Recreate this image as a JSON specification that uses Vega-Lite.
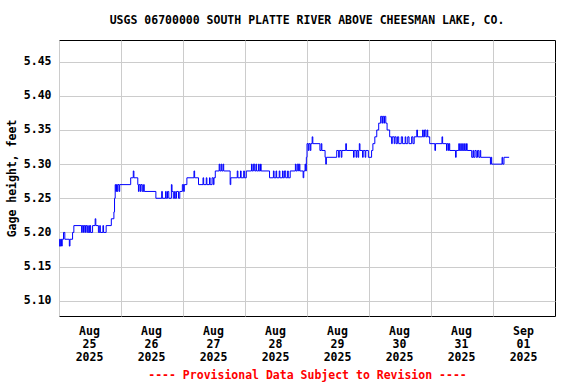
{
  "$schema": "https://vega.github.io/schema/vega-lite/v6.json",
  "width": 496,
  "height": 276,
  "autosize": {"type": "none"},
  "padding": {"left": 59, "top": 40, "right": 21, "bottom": 68},
  "background": "white",
  "title": {
    "text": "USGS 06700000 SOUTH PLATTE RIVER ABOVE CHEESMAN LAKE, CO.",
    "font": "DejaVu Sans Mono",
    "fontSize": 11.5,
    "fontWeight": "bold",
    "color": "black",
    "anchor": "middle",
    "offset": 14
  },
  "config": {
    "view": {"stroke": "black", "strokeWidth": 1},
    "axis": {
      "labelFont": "DejaVu Sans Mono",
      "labelFontSize": 11.5,
      "labelFontWeight": "bold",
      "labelColor": "black",
      "titleFont": "DejaVu Sans Mono",
      "titleFontSize": 11.5,
      "titleFontWeight": "bold",
      "titleColor": "black",
      "gridColor": "#cccccc",
      "gridWidth": 1,
      "gridOpacity": 1,
      "domain": false,
      "ticks": false
    }
  },
  "data": {
    "format": {"parse": {"t": "utc:'%Y-%m-%d %H:%M'"}},
    "values": [
      {"t": "2025-08-25 00:00", "v": 5.18},
      {"t": "2025-08-25 00:15", "v": 5.19},
      {"t": "2025-08-25 00:30", "v": 5.18},
      {"t": "2025-08-25 00:45", "v": 5.19},
      {"t": "2025-08-25 01:00", "v": 5.18},
      {"t": "2025-08-25 01:15", "v": 5.19},
      {"t": "2025-08-25 01:45", "v": 5.20},
      {"t": "2025-08-25 02:15", "v": 5.19},
      {"t": "2025-08-25 04:00", "v": 5.18},
      {"t": "2025-08-25 04:15", "v": 5.19},
      {"t": "2025-08-25 05:15", "v": 5.20},
      {"t": "2025-08-25 05:45", "v": 5.21},
      {"t": "2025-08-25 08:45", "v": 5.20},
      {"t": "2025-08-25 09:00", "v": 5.21},
      {"t": "2025-08-25 09:30", "v": 5.20},
      {"t": "2025-08-25 09:45", "v": 5.21},
      {"t": "2025-08-25 10:15", "v": 5.20},
      {"t": "2025-08-25 10:30", "v": 5.21},
      {"t": "2025-08-25 11:00", "v": 5.20},
      {"t": "2025-08-25 11:30", "v": 5.21},
      {"t": "2025-08-25 11:45", "v": 5.20},
      {"t": "2025-08-25 12:00", "v": 5.21},
      {"t": "2025-08-25 12:15", "v": 5.20},
      {"t": "2025-08-25 13:00", "v": 5.21},
      {"t": "2025-08-25 14:00", "v": 5.22},
      {"t": "2025-08-25 14:15", "v": 5.21},
      {"t": "2025-08-25 15:15", "v": 5.20},
      {"t": "2025-08-25 15:45", "v": 5.21},
      {"t": "2025-08-25 16:00", "v": 5.20},
      {"t": "2025-08-25 17:00", "v": 5.21},
      {"t": "2025-08-25 17:15", "v": 5.20},
      {"t": "2025-08-25 18:15", "v": 5.21},
      {"t": "2025-08-25 20:15", "v": 5.22},
      {"t": "2025-08-25 21:15", "v": 5.23},
      {"t": "2025-08-25 21:30", "v": 5.25},
      {"t": "2025-08-25 21:45", "v": 5.27},
      {"t": "2025-08-25 22:00", "v": 5.26},
      {"t": "2025-08-25 22:15", "v": 5.27},
      {"t": "2025-08-25 22:30", "v": 5.26},
      {"t": "2025-08-25 22:45", "v": 5.27},
      {"t": "2025-08-25 23:15", "v": 5.26},
      {"t": "2025-08-25 23:30", "v": 5.27},
      {"t": "2025-08-26 03:45", "v": 5.28},
      {"t": "2025-08-26 04:45", "v": 5.29},
      {"t": "2025-08-26 05:00", "v": 5.28},
      {"t": "2025-08-26 06:30", "v": 5.27},
      {"t": "2025-08-26 06:45", "v": 5.26},
      {"t": "2025-08-26 07:00", "v": 5.27},
      {"t": "2025-08-26 07:30", "v": 5.26},
      {"t": "2025-08-26 07:45", "v": 5.27},
      {"t": "2025-08-26 08:15", "v": 5.26},
      {"t": "2025-08-26 08:45", "v": 5.27},
      {"t": "2025-08-26 09:00", "v": 5.26},
      {"t": "2025-08-26 13:30", "v": 5.25},
      {"t": "2025-08-26 15:45", "v": 5.26},
      {"t": "2025-08-26 16:00", "v": 5.25},
      {"t": "2025-08-26 17:15", "v": 5.26},
      {"t": "2025-08-26 17:30", "v": 5.25},
      {"t": "2025-08-26 18:00", "v": 5.26},
      {"t": "2025-08-26 18:30", "v": 5.25},
      {"t": "2025-08-26 19:30", "v": 5.27},
      {"t": "2025-08-26 19:45", "v": 5.26},
      {"t": "2025-08-26 20:15", "v": 5.25},
      {"t": "2025-08-26 20:45", "v": 5.26},
      {"t": "2025-08-26 21:00", "v": 5.25},
      {"t": "2025-08-26 21:30", "v": 5.26},
      {"t": "2025-08-26 22:15", "v": 5.25},
      {"t": "2025-08-26 22:45", "v": 5.26},
      {"t": "2025-08-26 23:45", "v": 5.27},
      {"t": "2025-08-27 00:15", "v": 5.26},
      {"t": "2025-08-27 00:30", "v": 5.27},
      {"t": "2025-08-27 01:30", "v": 5.28},
      {"t": "2025-08-27 04:15", "v": 5.29},
      {"t": "2025-08-27 04:30", "v": 5.28},
      {"t": "2025-08-27 06:00", "v": 5.27},
      {"t": "2025-08-27 07:45", "v": 5.28},
      {"t": "2025-08-27 08:00", "v": 5.27},
      {"t": "2025-08-27 09:00", "v": 5.28},
      {"t": "2025-08-27 09:15", "v": 5.27},
      {"t": "2025-08-27 10:15", "v": 5.28},
      {"t": "2025-08-27 10:30", "v": 5.27},
      {"t": "2025-08-27 11:15", "v": 5.28},
      {"t": "2025-08-27 11:45", "v": 5.27},
      {"t": "2025-08-27 12:00", "v": 5.28},
      {"t": "2025-08-27 12:30", "v": 5.29},
      {"t": "2025-08-27 14:00", "v": 5.30},
      {"t": "2025-08-27 14:15", "v": 5.29},
      {"t": "2025-08-27 14:45", "v": 5.30},
      {"t": "2025-08-27 15:00", "v": 5.29},
      {"t": "2025-08-27 15:30", "v": 5.30},
      {"t": "2025-08-27 15:45", "v": 5.29},
      {"t": "2025-08-27 18:15", "v": 5.27},
      {"t": "2025-08-27 18:30", "v": 5.28},
      {"t": "2025-08-27 21:00", "v": 5.29},
      {"t": "2025-08-27 21:15", "v": 5.28},
      {"t": "2025-08-27 22:15", "v": 5.29},
      {"t": "2025-08-27 22:30", "v": 5.28},
      {"t": "2025-08-27 23:30", "v": 5.29},
      {"t": "2025-08-27 23:45", "v": 5.28},
      {"t": "2025-08-28 00:30", "v": 5.29},
      {"t": "2025-08-28 02:30", "v": 5.30},
      {"t": "2025-08-28 02:45", "v": 5.29},
      {"t": "2025-08-28 03:15", "v": 5.30},
      {"t": "2025-08-28 03:45", "v": 5.29},
      {"t": "2025-08-28 04:15", "v": 5.30},
      {"t": "2025-08-28 04:30", "v": 5.29},
      {"t": "2025-08-28 05:15", "v": 5.30},
      {"t": "2025-08-28 05:30", "v": 5.29},
      {"t": "2025-08-28 06:00", "v": 5.30},
      {"t": "2025-08-28 06:15", "v": 5.29},
      {"t": "2025-08-28 09:30", "v": 5.28},
      {"t": "2025-08-28 11:00", "v": 5.29},
      {"t": "2025-08-28 11:15", "v": 5.28},
      {"t": "2025-08-28 12:00", "v": 5.29},
      {"t": "2025-08-28 12:15", "v": 5.28},
      {"t": "2025-08-28 13:15", "v": 5.29},
      {"t": "2025-08-28 13:30", "v": 5.28},
      {"t": "2025-08-28 14:30", "v": 5.29},
      {"t": "2025-08-28 14:45", "v": 5.28},
      {"t": "2025-08-28 15:15", "v": 5.29},
      {"t": "2025-08-28 15:45", "v": 5.28},
      {"t": "2025-08-28 16:30", "v": 5.29},
      {"t": "2025-08-28 16:45", "v": 5.28},
      {"t": "2025-08-28 17:30", "v": 5.29},
      {"t": "2025-08-28 19:30", "v": 5.30},
      {"t": "2025-08-28 19:45", "v": 5.29},
      {"t": "2025-08-28 20:15", "v": 5.30},
      {"t": "2025-08-28 20:45", "v": 5.29},
      {"t": "2025-08-28 21:00", "v": 5.30},
      {"t": "2025-08-28 21:15", "v": 5.29},
      {"t": "2025-08-28 22:30", "v": 5.28},
      {"t": "2025-08-28 22:45", "v": 5.29},
      {"t": "2025-08-28 23:15", "v": 5.30},
      {"t": "2025-08-28 23:30", "v": 5.29},
      {"t": "2025-08-28 23:45", "v": 5.31},
      {"t": "2025-08-29 00:00", "v": 5.33},
      {"t": "2025-08-29 00:30", "v": 5.32},
      {"t": "2025-08-29 00:45", "v": 5.33},
      {"t": "2025-08-29 01:15", "v": 5.32},
      {"t": "2025-08-29 01:30", "v": 5.33},
      {"t": "2025-08-29 02:00", "v": 5.34},
      {"t": "2025-08-29 02:15", "v": 5.33},
      {"t": "2025-08-29 05:00", "v": 5.32},
      {"t": "2025-08-29 05:30", "v": 5.33},
      {"t": "2025-08-29 05:45", "v": 5.32},
      {"t": "2025-08-29 07:00", "v": 5.31},
      {"t": "2025-08-29 07:15", "v": 5.30},
      {"t": "2025-08-29 07:30", "v": 5.31},
      {"t": "2025-08-29 11:30", "v": 5.32},
      {"t": "2025-08-29 12:15", "v": 5.31},
      {"t": "2025-08-29 12:30", "v": 5.32},
      {"t": "2025-08-29 13:15", "v": 5.31},
      {"t": "2025-08-29 13:30", "v": 5.32},
      {"t": "2025-08-29 15:00", "v": 5.33},
      {"t": "2025-08-29 15:15", "v": 5.32},
      {"t": "2025-08-29 18:00", "v": 5.31},
      {"t": "2025-08-29 18:15", "v": 5.32},
      {"t": "2025-08-29 19:00", "v": 5.31},
      {"t": "2025-08-29 19:15", "v": 5.32},
      {"t": "2025-08-29 19:45", "v": 5.31},
      {"t": "2025-08-29 20:00", "v": 5.32},
      {"t": "2025-08-29 20:15", "v": 5.33},
      {"t": "2025-08-29 20:30", "v": 5.32},
      {"t": "2025-08-29 21:30", "v": 5.31},
      {"t": "2025-08-29 21:45", "v": 5.32},
      {"t": "2025-08-29 22:30", "v": 5.31},
      {"t": "2025-08-29 22:45", "v": 5.32},
      {"t": "2025-08-29 23:45", "v": 5.31},
      {"t": "2025-08-30 01:00", "v": 5.32},
      {"t": "2025-08-30 01:30", "v": 5.33},
      {"t": "2025-08-30 02:15", "v": 5.34},
      {"t": "2025-08-30 03:00", "v": 5.35},
      {"t": "2025-08-30 03:45", "v": 5.36},
      {"t": "2025-08-30 04:30", "v": 5.37},
      {"t": "2025-08-30 05:00", "v": 5.36},
      {"t": "2025-08-30 05:15", "v": 5.37},
      {"t": "2025-08-30 05:45", "v": 5.36},
      {"t": "2025-08-30 06:00", "v": 5.37},
      {"t": "2025-08-30 06:30", "v": 5.36},
      {"t": "2025-08-30 07:00", "v": 5.35},
      {"t": "2025-08-30 08:00", "v": 5.34},
      {"t": "2025-08-30 08:45", "v": 5.33},
      {"t": "2025-08-30 09:00", "v": 5.34},
      {"t": "2025-08-30 09:45", "v": 5.33},
      {"t": "2025-08-30 10:00", "v": 5.34},
      {"t": "2025-08-30 10:30", "v": 5.33},
      {"t": "2025-08-30 11:00", "v": 5.34},
      {"t": "2025-08-30 11:30", "v": 5.33},
      {"t": "2025-08-30 12:30", "v": 5.34},
      {"t": "2025-08-30 13:00", "v": 5.33},
      {"t": "2025-08-30 14:00", "v": 5.34},
      {"t": "2025-08-30 14:15", "v": 5.33},
      {"t": "2025-08-30 15:00", "v": 5.34},
      {"t": "2025-08-30 15:30", "v": 5.33},
      {"t": "2025-08-30 16:30", "v": 5.34},
      {"t": "2025-08-30 17:00", "v": 5.33},
      {"t": "2025-08-30 17:30", "v": 5.34},
      {"t": "2025-08-30 18:30", "v": 5.35},
      {"t": "2025-08-30 18:45", "v": 5.34},
      {"t": "2025-08-30 20:45", "v": 5.35},
      {"t": "2025-08-30 21:00", "v": 5.34},
      {"t": "2025-08-30 21:30", "v": 5.35},
      {"t": "2025-08-30 22:00", "v": 5.34},
      {"t": "2025-08-30 22:30", "v": 5.35},
      {"t": "2025-08-30 22:45", "v": 5.34},
      {"t": "2025-08-30 23:30", "v": 5.33},
      {"t": "2025-08-31 01:30", "v": 5.32},
      {"t": "2025-08-31 01:45", "v": 5.33},
      {"t": "2025-08-31 04:15", "v": 5.34},
      {"t": "2025-08-31 04:30", "v": 5.33},
      {"t": "2025-08-31 06:00", "v": 5.32},
      {"t": "2025-08-31 06:15", "v": 5.33},
      {"t": "2025-08-31 06:45", "v": 5.32},
      {"t": "2025-08-31 07:00", "v": 5.33},
      {"t": "2025-08-31 07:15", "v": 5.32},
      {"t": "2025-08-31 09:30", "v": 5.31},
      {"t": "2025-08-31 09:45", "v": 5.32},
      {"t": "2025-08-31 10:45", "v": 5.33},
      {"t": "2025-08-31 11:00", "v": 5.32},
      {"t": "2025-08-31 11:30", "v": 5.33},
      {"t": "2025-08-31 11:45", "v": 5.32},
      {"t": "2025-08-31 12:15", "v": 5.33},
      {"t": "2025-08-31 12:30", "v": 5.32},
      {"t": "2025-08-31 13:00", "v": 5.33},
      {"t": "2025-08-31 13:15", "v": 5.32},
      {"t": "2025-08-31 13:45", "v": 5.33},
      {"t": "2025-08-31 14:00", "v": 5.32},
      {"t": "2025-08-31 15:45", "v": 5.31},
      {"t": "2025-08-31 16:15", "v": 5.32},
      {"t": "2025-08-31 16:30", "v": 5.31},
      {"t": "2025-08-31 17:00", "v": 5.32},
      {"t": "2025-08-31 17:30", "v": 5.31},
      {"t": "2025-08-31 18:00", "v": 5.32},
      {"t": "2025-08-31 18:30", "v": 5.31},
      {"t": "2025-08-31 19:00", "v": 5.32},
      {"t": "2025-08-31 19:15", "v": 5.31},
      {"t": "2025-08-31 23:00", "v": 5.30},
      {"t": "2025-08-31 23:15", "v": 5.31},
      {"t": "2025-08-31 23:30", "v": 5.30},
      {"t": "2025-09-01 03:30", "v": 5.31},
      {"t": "2025-09-01 03:45", "v": 5.30},
      {"t": "2025-09-01 04:15", "v": 5.31},
      {"t": "2025-09-01 06:15", "v": 5.31}
    ]
  },
  "mark": {"type": "line", "interpolate": "step-after", "color": "#0000ff", "strokeWidth": 1, "clip": true},
  "encoding": {
    "x": {
      "field": "t",
      "type": "temporal",
      "scale": {
        "type": "utc",
        "domain": [
          {"year": 2025, "month": 8, "date": 25, "utc": true},
          {"year": 2025, "month": 9, "date": 2, "utc": true}
        ]
      },
      "axis": {
        "values": [
          {"year": 2025, "month": 8, "date": 25, "utc": true},
          {"year": 2025, "month": 8, "date": 26, "utc": true},
          {"year": 2025, "month": 8, "date": 27, "utc": true},
          {"year": 2025, "month": 8, "date": 28, "utc": true},
          {"year": 2025, "month": 8, "date": 29, "utc": true},
          {"year": 2025, "month": 8, "date": 30, "utc": true},
          {"year": 2025, "month": 8, "date": 31, "utc": true},
          {"year": 2025, "month": 9, "date": 1, "utc": true}
        ],
        "labelExpr": "[utcFormat(datum.value, '%b'), utcFormat(datum.value, '%d'), utcFormat(datum.value, '%Y')]",
        "labelOffset": 30,
        "labelPadding": 9,
        "labelLineHeight": 13,
        "labelFlush": false,
        "labelOverlap": false,
        "labelBound": false,
        "grid": true,
        "title": "---- Provisional Data Subject to Revision ----",
        "titleColor": "#ff0000",
        "titlePadding": 7
      }
    },
    "y": {
      "field": "v",
      "type": "quantitative",
      "scale": {"domain": [5.0776, 5.4818], "nice": false, "zero": false},
      "axis": {
        "values": [5.10, 5.15, 5.20, 5.25, 5.30, 5.35, 5.40, 5.45],
        "format": ".2f",
        "labelPadding": 8,
        "grid": true,
        "title": "Gage height, feet",
        "titlePadding": 6
      }
    }
  }
}
